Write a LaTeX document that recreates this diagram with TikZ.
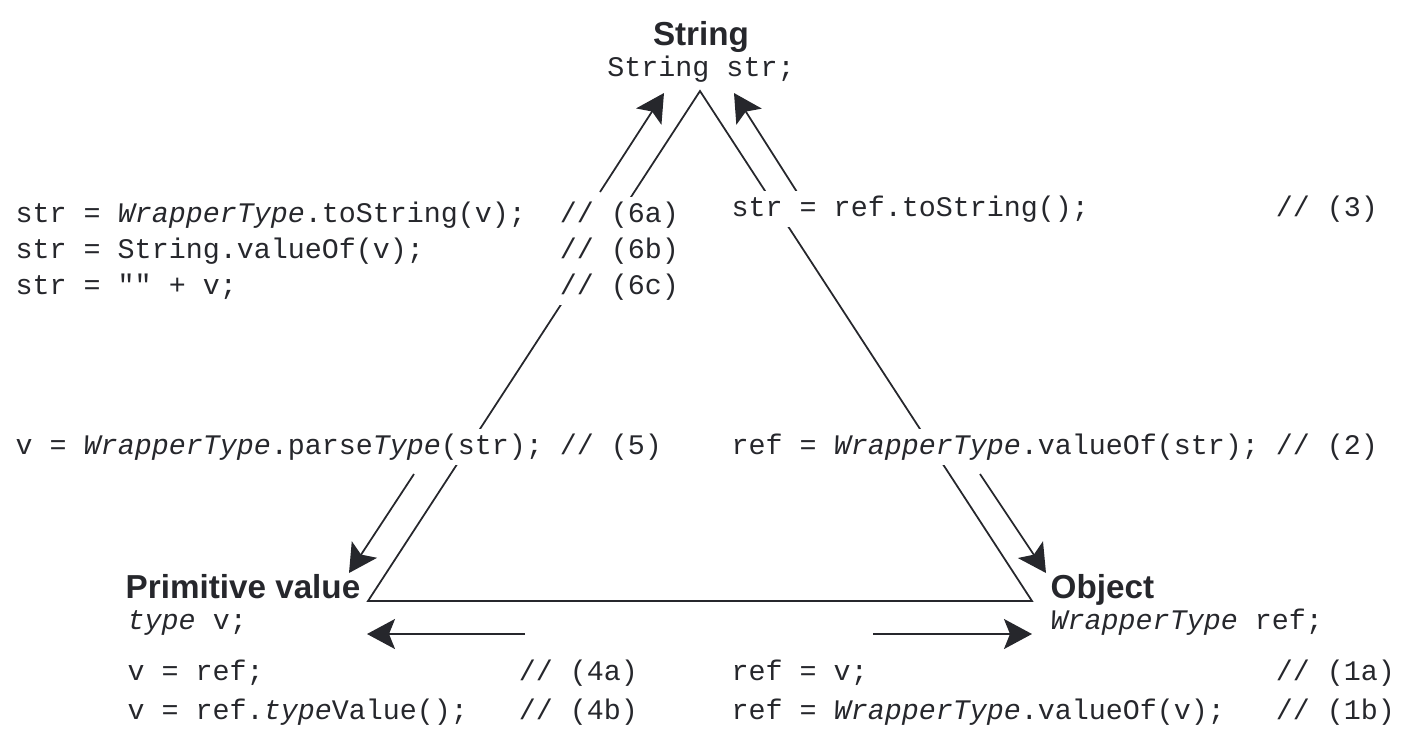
\documentclass[tikz,border=0pt]{standalone}
\usepackage{fontspec}
\setmainfont{Liberation Sans}
\newfontfamily\codefont{Liberation Mono}
\usetikzlibrary{arrows.meta}
\definecolor{ink}{HTML}{26272C}
% pad code to a column (0.6em per column in the mono font)
\newcommand\crow[3]{\makebox[#1em][l]{#2}#3}
\tikzset{
  code/.style={font=\codefont\fontsize{8.06}{9}\selectfont, text=ink, anchor=base west,
    inner sep=0pt, fill=white, text height=0.25cm, text depth=0.11cm},
  title/.style={font=\bfseries\fontsize{9.45}{11}\selectfont, text=ink, inner sep=0pt},
  side/.style={draw=ink, line width=0.5pt},
  conv/.style={draw=ink, line width=0.5pt,
    -{Stealth[length=0.28cm, width=0.30cm, inset=0.06cm]}},
}
\begin{document}
\begin{tikzpicture}[x=0.01cm, y=-0.01cm]
\useasboundingbox (0,0) rectangle (1402,735);
% corners of the triangle
\coordinate (top) at (700,91);
\coordinate (pv) at (368,601);
\coordinate (obj) at (1032,601);
\draw[side] (top) -- (pv) -- (obj) -- cycle;
% ends of the conversion arrows
\coordinate (a6) at (600,192); \coordinate (b6) at (664,93);
\coordinate (a3) at (797,192); \coordinate (b3) at (734,93);
\coordinate (a5) at (414,474); \coordinate (b5) at (349,573);
\coordinate (a2) at (980,474); \coordinate (b2) at (1046,573);
\coordinate (a4) at (525,634); \coordinate (b4) at (367,634);
\coordinate (a1) at (873,634); \coordinate (b1) at (1032,634);
\foreach \n in {6,3,5,2,4,1}
  \draw[conv] (a\n) -- (b\n);

% String
\node[title, anchor=base] (strT) at (701,45) {String};
\node[code, anchor=base, fill=none] (strV) at (701,76) {String str;};
% primitive value
\node[title, anchor=base west] (pvT) at (125,598) {Primitive value};
\node[code, fill=none] (pvV) at (127,629) {{\itshape type} v;};
% object
\node[title, anchor=base west] (objT) at (1050,598) {Object};
\node[code, fill=none] (objV) at (1050,629) {{\itshape WrapperType} ref;};

% primitive -> string
\node[code] (c6a) at (15,222) {\crow{19.2}{str = {\itshape WrapperType}.toString(v);}{// (6a)}};
\node[code] (c6b) at (15,258) {\crow{19.2}{str = String.valueOf(v);}{// (6b)}};
\node[code] (c6c) at (15,294) {\crow{19.2}{str = "" + v;}{// (6c)}};
% object -> string
\node[code] (c3) at (731,216) {\crow{19.2}{str = ref.toString();}{// (3)}};
% string -> primitive / object
\node[code] (c5) at (15,454) {\crow{19.2}{v = {\itshape WrapperType}.parse{\itshape Type}(str);}{// (5)}};
\node[code] (c2) at (731,454) {\crow{19.2}{ref = {\itshape WrapperType}.valueOf(str);}{// (2)}};
% object -> primitive
\node[code] (c4a) at (127,680) {\crow{13.8}{v = ref;}{// (4a)}};
\node[code] (c4b) at (127,719) {\crow{13.8}{v = ref.{\itshape type}Value();}{// (4b)}};
% primitive -> object
\node[code] (c1a) at (731,680) {\crow{19.2}{ref = v;}{// (1a)}};
\node[code] (c1b) at (731,719) {\crow{19.2}{ref = {\itshape WrapperType}.valueOf(v);}{// (1b)}};
\end{tikzpicture}
\end{document}
